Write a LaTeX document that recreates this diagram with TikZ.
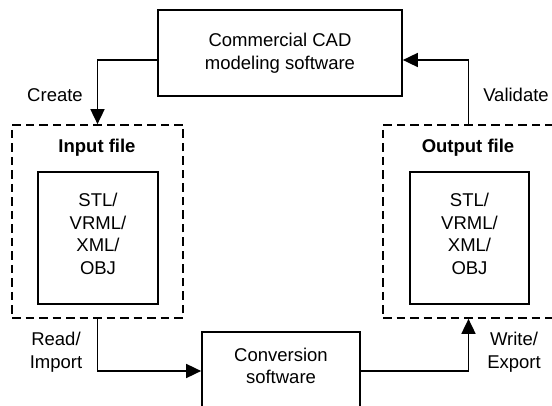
\documentclass[tikz,border=0pt]{standalone}
\usepackage{fontspec}
\setmainfont{Liberation Sans}
\usetikzlibrary{arrows.meta}
\begin{document}
\begin{tikzpicture}[x=1pt,y=-1pt,
  every node/.style={font=\fontsize{18.5}{22.5}\selectfont, inner sep=0pt},
  solidbox/.style={draw, line width=1.7pt},
  dashbox/.style={draw, line width=1.7pt, dash pattern=on 8.5pt off 5pt},
  conn/.style={line width=1.7pt},
  arr/.style={conn, -{Triangle[length=15pt,width=14pt]}},
  lbl/.style={align=center}]
\useasboundingbox (0,0) rectangle (552,406);
% boxes
\node[solidbox, minimum width=244pt, minimum height=86pt, align=center] (cad) at (280,53) {Commercial CAD\\modeling software};
\node[dashbox, minimum width=171pt, minimum height=193pt] (infile) at (97.5,221.5) {};
\node[solidbox, minimum width=120pt, minimum height=132pt] (inbox) at (98,238) {};
\node[lbl] (intxt) at (98,234) {STL/\\VRML/\\XML/\\OBJ};
\node[anchor=base] (inlbl) at (97,153) {\textbf{Input file}};
\node[dashbox, minimum width=171pt, minimum height=193pt] (outfile) at (468.5,221.5) {};
\node[solidbox, minimum width=119pt, minimum height=132pt] (outbox) at (469.5,238) {};
\node[lbl] (outtxt) at (469.5,234) {STL/\\VRML/\\XML/\\OBJ};
\node[anchor=base] (outlbl) at (468,153) {\textbf{Output file}};
\node[solidbox, minimum width=158pt, minimum height=78pt] (conv) at (281,371) {};
\node[lbl] (convtxt) at (281,366) {Conversion\\software};
% labels
\node[anchor=base] (create) at (55,102) {Create};
\node[anchor=base] (validate) at (516,102) {Validate};
\node[lbl] (read) at (56,352) {Read/\\Import};
\node[lbl] (write) at (514,352) {Write/\\Export};
% connectors
\coordinate (cy) at (0,60);
\draw[arr] (cad.west |- cy) -| (infile.north);
\draw[arr] (outfile.north) |- (cad.east |- cy);
\draw[arr] (infile.south) |- (conv.west);
\draw[arr] (conv.east) -| (outfile.south);
\end{tikzpicture}
\end{document}
